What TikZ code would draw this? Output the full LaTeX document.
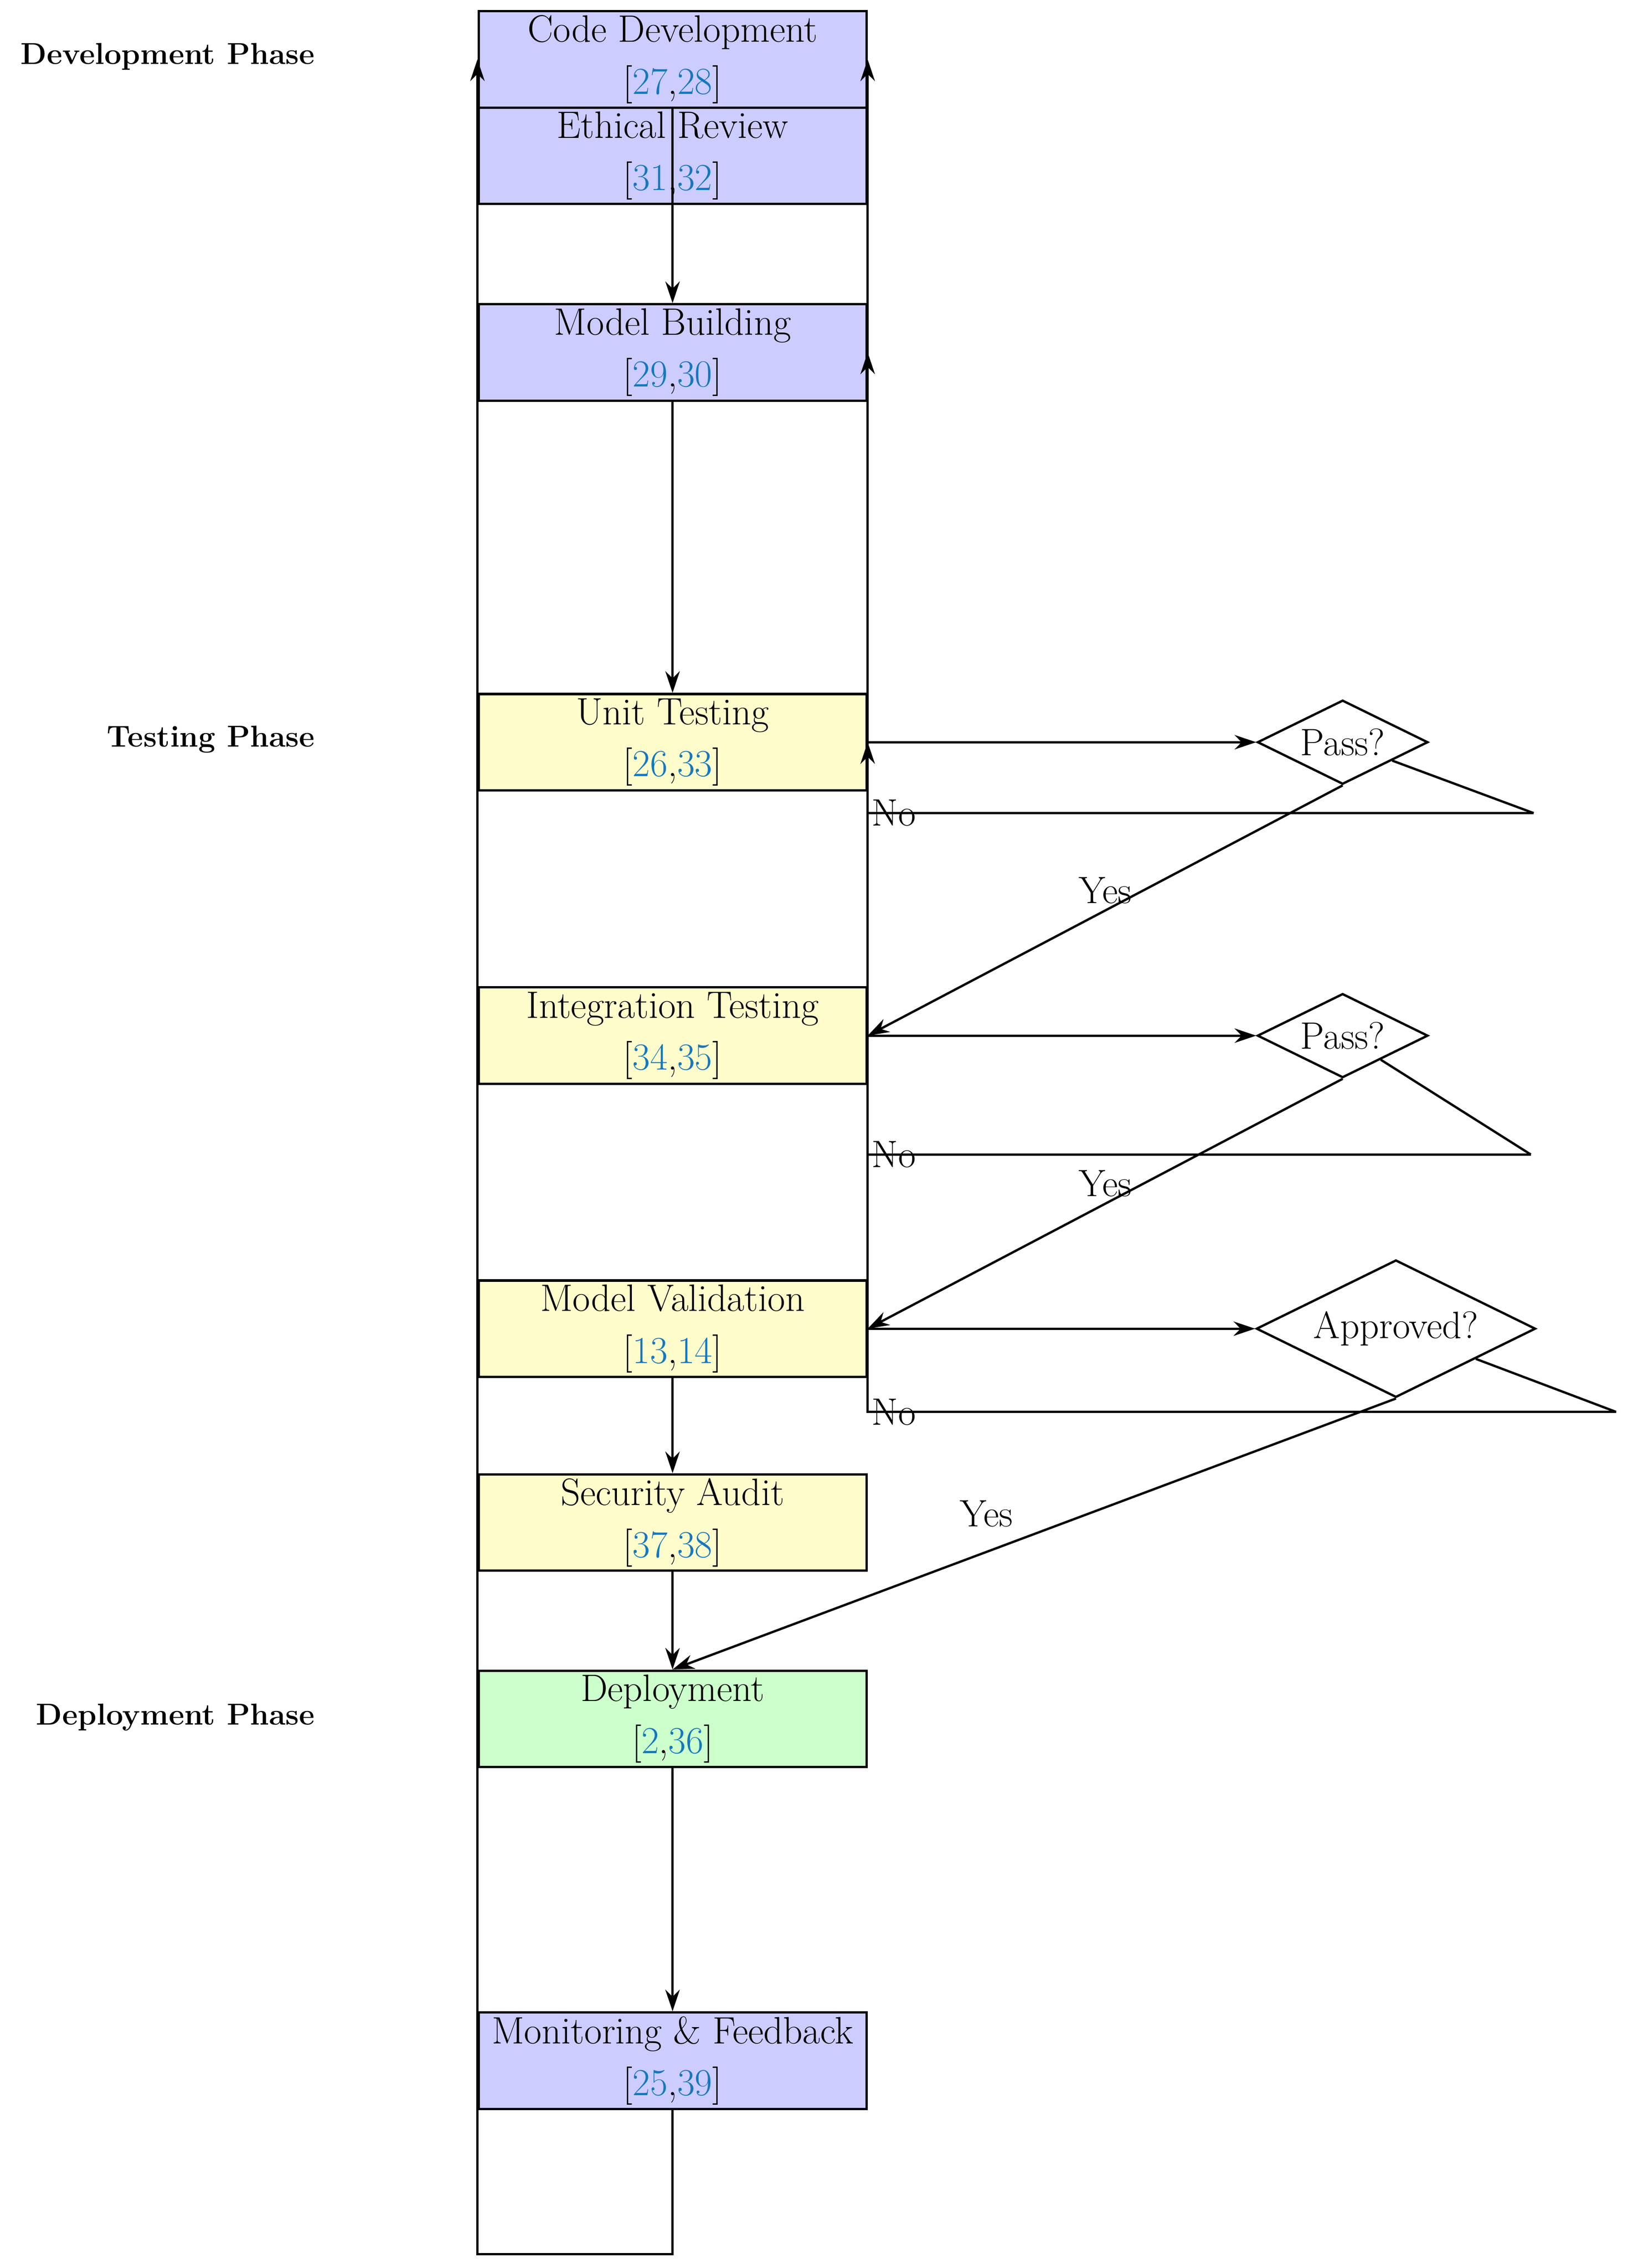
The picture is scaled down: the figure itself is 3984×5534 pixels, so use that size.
\documentclass[tikz,border=0pt]{standalone}
\usetikzlibrary{shapes.geometric,arrows.meta}
\definecolor{citeblue}{RGB}{20,120,190}
\begin{document}
\begin{tikzpicture}[x=0.01cm,y=-0.01cm,
  every node/.style={font=\fontsize{26.5}{36}\selectfont},
  box/.style={draw,line width=1.6pt,minimum width=9.46cm,minimum height=2.35cm,align=center,inner sep=0pt},
  dev/.style={box,fill=blue!20},
  test/.style={box,fill=yellow!20},
  dep/.style={box,fill=green!20},
  dec/.style={draw,line width=1.6pt,diamond,aspect=2.03,inner sep=0pt},
  phase/.style={anchor=east,font=\fontsize{21}{26}\selectfont\bfseries},
  ln/.style={line width=1.6pt},
  conn/.style={ln,-{Stealth[length=15pt,width=10pt]}},
  lbl/.style={inner sep=4pt}]
\useasboundingbox (0,0) rectangle (3984,5534);
\newcommand{\refs}[2]{[\textcolor{citeblue}{#1},\textcolor{citeblue}{#2}]}
\node[phase] (p1) at (780,138) {Development Phase};
\node[phase] (p2) at (780,1804) {Testing Phase};
\node[phase] (p3) at (780,4190) {Deployment Phase};
\node[dev] (code) at (1641,145) {Code Development\\\refs{27}{28}};
\node[dev] (eth) at (1641,380) {Ethical Review\\\refs{31}{32}};
\node[dev] (mb) at (1641,860) {Model Building\\\refs{29}{30}};
\node[test] (ut) at (1641,1811) {Unit Testing\\\refs{26}{33}};
\node[test] (it) at (1641,2527) {Integration Testing\\\refs{34}{35}};
\node[test] (mv) at (1641,3242) {Model Validation\\\refs{13}{14}};
\node[test] (sa) at (1641,3715) {Security Audit\\\refs{37}{38}};
\node[dep] (dp) at (1641,4194) {Deployment\\\refs{2}{36}};
\node[dev] (mf) at (1641,5028) {Monitoring \& Feedback\\\refs{25}{39}};
\node[dec,minimum width=4.16cm,minimum height=2.05cm] (d1) at (3276,1811) {Pass?};
\node[dec,minimum width=4.16cm,minimum height=2.05cm] (d2) at (3276,2527) {Pass?};
\node[dec,minimum width=6.81cm,minimum height=3.35cm] (d3) at (3406,3242) {Approved?};
\coordinate (n1) at (3742,1984);
\coordinate (n2) at (3735,2817);
\coordinate (n3) at (3943,3445);
\coordinate (loop) at (1641,5500);
\draw[conn] (code) -- (mb);
\draw[conn] (mb) -- (ut);
\draw[conn] (ut) -- (d1);
\draw[conn] (it) -- (d2);
\draw[conn] (mv) -- (d3);
\draw[conn] (d1.south) -- node[above,lbl,pos=0.5] {Yes} (it.east);
\draw[conn] (d2.south) -- node[above,lbl,pos=0.5] {Yes} (mv.east);
\draw[conn] (d3.south) -- node[above left,lbl,pos=0.5,xshift=-10] {Yes} (dp.north);
\draw[ln] (d1) -- (n1);
\draw[conn] (n1) -| node[pos=0.5,anchor=west,inner sep=2pt] {No} (ut.east);
\draw[ln] (d2) -- (n2);
\draw[conn] (n2) -| node[pos=0.5,anchor=west,inner sep=2pt] {No} (mb.east);
\draw[ln] (d3) -- (n3);
\draw[conn] (n3) -| node[pos=0.5,anchor=west,inner sep=2pt] {No} (code.east);
\draw[conn] (mv) -- (sa);
\draw[conn] (sa) -- (dp);
\draw[conn] (dp) -- (mf);
\draw[conn] (mf.south) -- (loop) -| (code.west);
\end{tikzpicture}
\end{document}
